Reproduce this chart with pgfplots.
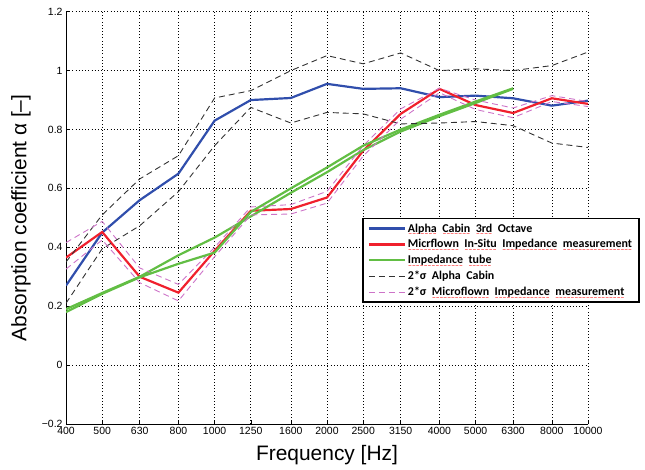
\documentclass[border=0pt]{standalone}
\usepackage{pgfplots}
\pgfplotsset{compat=1.18}
\usepackage{fontspec}
\setmainfont{Liberation Sans}
\newfontfamily\carlito{Carlito}
\newfontfamily\dejavu{DejaVu Sans}
\usetikzlibrary{calc}
\definecolor{cblue}{RGB}{48,78,172}
\definecolor{cred}{RGB}{240,32,45}
\definecolor{cgreen}{RGB}{98,190,68}
\definecolor{cgray}{RGB}{50,50,50}
\definecolor{cpink}{RGB}{205,115,200}
\newcommand\legfont{\carlito\bfseries\fontsize{12}{14}\selectfont\spaceskip=5.5pt plus 1pt\relax}
\newcommand\w[1]{\leavevmode\setbox0\hbox{#1}\rlap{\raisebox{-3.4pt}[0pt][0pt]{\textcolor{red}{\hbox to\wd0{\xleaders\hbox{\dejavu\fontsize{4.5}{5}\selectfont\char"223C}\hfil}}}}\box0\relax}
\begin{document}
\begin{tikzpicture}
\begin{axis}[
  name=ax,
  scale only axis,
  width=522bp, height=412.3bp,
  xmode=log,
  xmin=400, xmax=10000,
  ymin=-0.2, ymax=1.2,
  xtick={400,500,630,800,1000,1250,1600,2000,2500,3150,4000,5000,6300,8000,10000},
  xticklabels={400,500,630,800,1000,1250,1600,2000,2500,3150,4000,5000,6300,8000,10000},
  xminorticks=false,
  ytick={-0.2,0,0.2,0.4,0.6,0.8,1,1.2},
  yticklabels={−0.2,0,0.2,0.4,0.6,0.8,1,1.2},
  grid=major,
  grid style={black, line width=0.6pt, dash pattern=on 0.8pt off 2.4pt},
  axis x line*=bottom, axis y line*=left,
  axis line style={black, line width=0.6pt, -},
  tick style={black, line width=0.5pt},
  major tick length=4bp,
  tick align=inside,
  tick label style={font=\fontsize{10.5}{12}\selectfont},
  xlabel={Frequency [Hz]},
  ylabel={Absorption coefficient α [–]},
  label style={font=\fontsize{21}{25}\selectfont},
  xlabel style={at={(rel axis cs:0.5,0)}, anchor=north, inner sep=0pt, yshift=-21bp},
  ylabel style={at={(rel axis cs:0,0.5)}, anchor=center, inner sep=0pt, yshift=45bp},
  legend image code/.code={\draw[#1] (0bp,0bp) -- (36bp,0bp);},
  legend style={at={(0.567,0.5)}, anchor=north west, draw=black, line width=1.6pt,
    font=\legfont, inner xsep=5pt, inner ysep=3pt, row sep=2pt,
    cells={anchor=west}, fill=white},
]
\addplot[cblue, line width=2.2pt] coordinates {(400,0.27)(500,0.45)(630,0.56)(800,0.65)(1000,0.83)(1250,0.90)(1600,0.907)(2000,0.955)(2500,0.938)(3150,0.94)(4000,0.91)(5000,0.915)(6300,0.906)(8000,0.881)(10000,0.898)};
\addlegendentry{\w{Alpha} \w{Cabin} \w{3rd} Octave}
\addplot[cred, line width=2.2pt] coordinates {(400,0.365)(500,0.452)(630,0.30)(800,0.246)(1000,0.388)(1250,0.524)(1600,0.53)(2000,0.569)(2500,0.728)(3150,0.853)(4000,0.938)(5000,0.883)(6300,0.856)(8000,0.906)(10000,0.887)};
\addlegendentry{\w{Micrflown} \w{In-Situ} \w{Impedance} \w{measurement}}
\addplot[cgreen, line width=2.2pt] coordinates {(400,0.19)(500,0.245)(630,0.30)(800,0.373)(1000,0.433)(1250,0.505)(1600,0.585)(2000,0.655)(2500,0.73)(3150,0.793)(4000,0.845)(5000,0.89)(6300,0.938)};
\addlegendentry{\w{Impedance} \w{tube}}
\addplot[cgray, line width=0.9pt, dash pattern=on 6pt off 4pt] coordinates {(400,0.35)(500,0.51)(630,0.632)(800,0.711)(1000,0.907)(1250,0.932)(1600,1.0)(2000,1.051)(2500,1.023)(3150,1.06)(4000,1.0)(5000,1.006)(6300,1.0)(8000,1.017)(10000,1.063)};
\addlegendentry{2*σ Alpha Cabin}
\addplot[cpink, line width=0.9pt, dash pattern=on 6pt off 4pt] coordinates {(400,0.416)(500,0.488)(630,0.33)(800,0.274)(1000,0.40)(1250,0.537)(1600,0.545)(2000,0.59)(2500,0.745)(3150,0.87)(4000,0.94)(5000,0.9)(6300,0.873)(8000,0.915)(10000,0.895)};
\addlegendentry{2*σ \w{Microflown} \w{Impedance} \w{measurement}}
\addplot[cgreen, line width=2.2pt, forget plot] coordinates {(400,0.18)(500,0.242)(630,0.298)(800,0.344)(1000,0.382)(1250,0.52)(1600,0.60)(2000,0.671)(2500,0.745)(3150,0.80)(4000,0.85)(5000,0.895)(6300,0.94)};
\addplot[cgray, line width=0.9pt, dash pattern=on 6pt off 4pt, forget plot] coordinates {(400,0.21)(500,0.395)(630,0.473)(800,0.589)(1000,0.745)(1250,0.875)(1600,0.822)(2000,0.858)(2500,0.853)(3150,0.819)(4000,0.822)(5000,0.827)(6300,0.813)(8000,0.754)(10000,0.739)};
\addplot[cpink, line width=0.9pt, dash pattern=on 6pt off 4pt, forget plot] coordinates {(400,0.326)(500,0.425)(630,0.28)(800,0.218)(1000,0.368)(1250,0.51)(1600,0.513)(2000,0.55)(2500,0.71)(3150,0.835)(4000,0.925)(5000,0.868)(6300,0.84)(8000,0.895)(10000,0.878)};
\end{axis}
\pgfresetboundingbox
\path ($(ax.south west)+(-66bp,-46bp)$) rectangle ($(ax.north east)+(57bp,11.7bp)$);
\end{tikzpicture}
\end{document}
